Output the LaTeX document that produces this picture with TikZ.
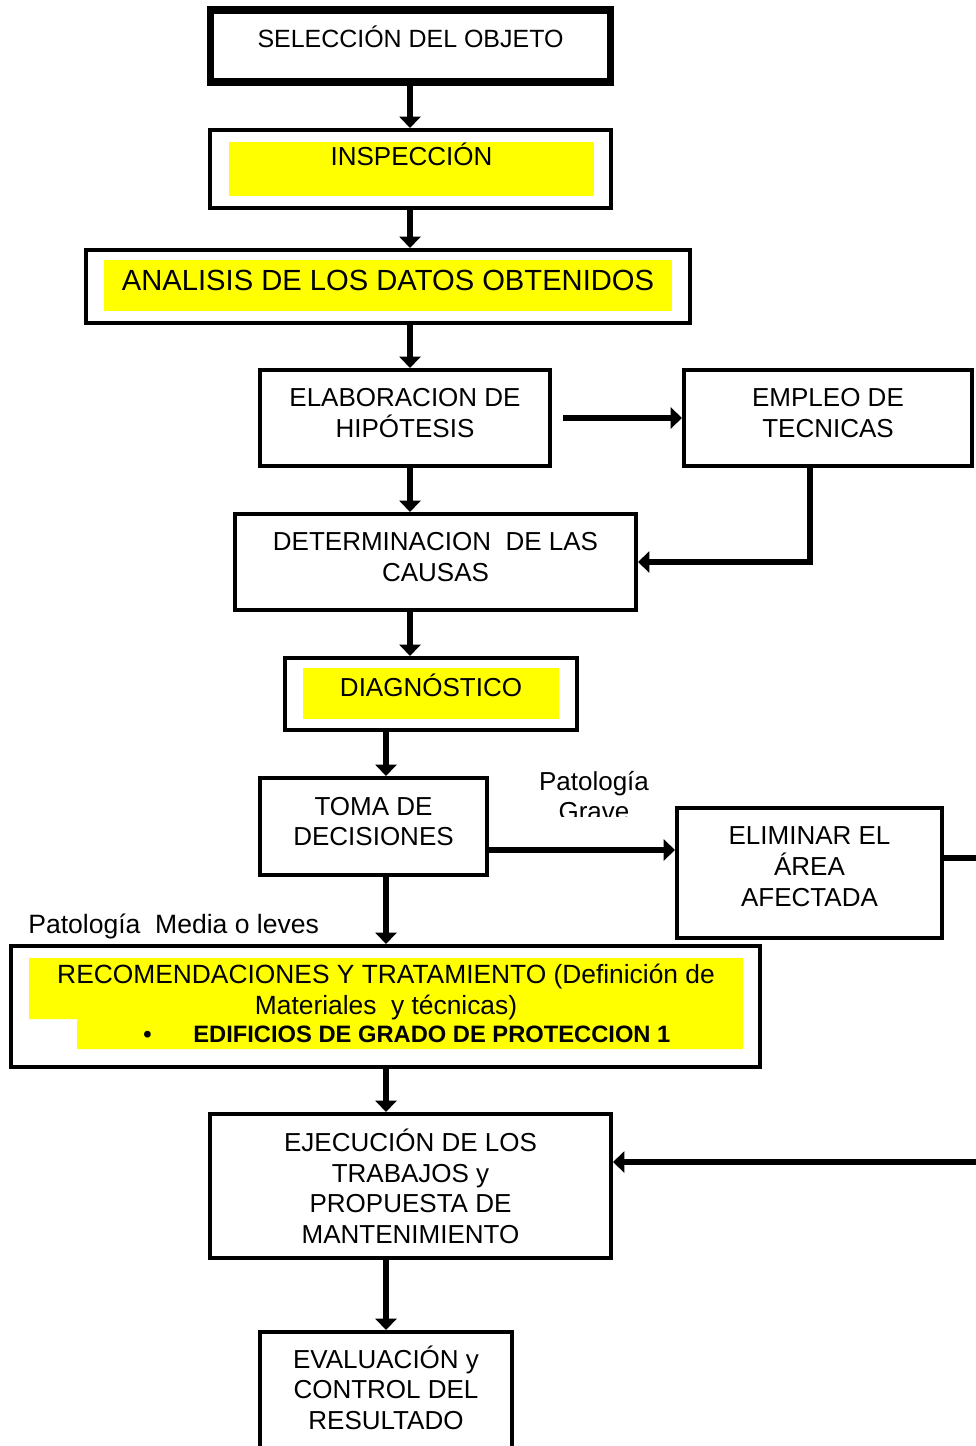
\documentclass[tikz,border=0pt]{standalone}
\usepackage{fontspec}
\setmainfont{Liberation Sans}
\usetikzlibrary{arrows.meta,positioning}
\definecolor{hilite}{RGB}{255,255,0}

\begin{document}
\begin{tikzpicture}[
        x=0.02cm, y=-0.02cm,
        every node/.style={font=\fontsize{14.8}{17.4}\selectfont, inner sep=0pt},
        box/.style={draw, rectangle, line width=2.3pt, align=center, text depth=0.2cm},
        frame/.style={draw, rectangle, line width=2.3pt},
        hl/.style={fill=hilite, align=center},
        arrow/.style={->, >={Triangle[width=12pt,length=6.5pt]}, line width=3pt}
    ]
        \useasboundingbox (0,0) rectangle (976,1446);
        \clip (0,0) rectangle (976,1446);

        % Main column - top to bottom
        \node[box, line width=4pt, minimum width=8.02cm, text height=0.76cm, text depth=0.68cm, font=\fontsize{14.2}{17}\selectfont] (sel) at (410.5,46) {SELECCIÓN DEL OBJETO};

        \node[frame, minimum width=8.02cm, minimum height=1.56cm] (insp) at (410.5,169) {};
        \node[hl, minimum width=7.3cm, text height=0.48cm, text depth=0.6cm] (insptxt) at (411.5,169) {INSPECCIÓN};

        \node[frame, minimum width=12.08cm, minimum height=1.46cm] (anal) at (388,286.5) {};
        \node[hl, minimum width=11.36cm, text height=0.6cm, text depth=0.42cm, font=\fontsize{16.6}{20}\selectfont] (analtxt) at (388,285.5) {ANALISIS DE LOS DATOS OBTENIDOS};

        \node[box, minimum width=5.8cm, minimum height=1.92cm] (elab) at (405,418) {ELABORACION DE\\HIPÓTESIS};
        \node[box, minimum width=5.76cm, minimum height=1.92cm] (empl) at (828,418) {EMPLEO DE\\TECNICAS};
        \node[box, minimum width=8.02cm, minimum height=1.92cm] (det) at (435.5,562) {DETERMINACION\ \ DE LAS\\CAUSAS};

        \node[frame, minimum width=5.84cm, minimum height=1.44cm] (diag) at (431,694) {};
        \node[hl, minimum width=5.12cm, text height=0.56cm, text depth=0.46cm] (diagtxt) at (431,693.5) {DIAGNÓSTICO};

        \node[box, minimum width=4.54cm, minimum height=1.94cm] (toma) at (373.5,826.5) {TOMA DE\\DECISIONES};
        \node[box, minimum width=5.3cm, minimum height=2.6cm, text depth=0.26cm] (elim) at (809.5,873) {ELIMINAR EL\\ÁREA\\AFECTADA};

        % Recommendations with its highlighted text
        \fill[hilite] (29,958) -- (743,958) -- (743,1049) -- (77,1049) -- (77,1019) -- (29,1019) -- cycle;
        \node[frame, minimum width=14.98cm, minimum height=2.42cm] (reco) at (385.5,1006.5) {};
        \node[align=center, font=\fontsize{15}{17.4}\selectfont] (recotxt) at (386,992) {RECOMENDACIONES Y TRATAMIENTO (Definición de\\Materiales\ \ y técnicas)};
        \node[anchor=base west, font=\bfseries\fontsize{13.5}{16}\selectfont] (recogrado) at (143,1042) {\makebox[1.0cm][l]{\textbullet}EDIFICIOS DE GRADO DE PROTECCION 1};

        \node[box, minimum width=8.02cm, minimum height=2.88cm, text depth=0cm] (ejec) at (410.5,1186) {EJECUCIÓN DE LOS\\TRABAJOS y\\PROPUESTA DE\\MANTENIMIENTO};
        \node[box, minimum width=5.04cm, minimum height=2.5cm, text depth=0.28cm, anchor=north] (eval) at (386,1330) {EVALUACIÓN y\\CONTROL DEL\\RESULTADO};

        % Branch labels
        \begin{scope}
            \clip (520,750) rectangle (680,816);
            \node[align=center] (grave) at (594,796) {Patología\\Grave};
        \end{scope}
        \node[anchor=base west, font=\fontsize{15.1}{17.4}\selectfont] (leves) at (28,933) {Patología\ \ Media o leves};

        % Arrows
        \coordinate (upper) at (410,0);
        \coordinate (lower) at (386,0);
        \coordinate (loop) at (992,0);
        \draw[arrow] (sel.south -| upper) -- (insp.north -| upper);
        \draw[arrow] (insp.south -| upper) -- (anal.north -| upper);
        \draw[arrow] (anal.south -| upper) -- (elab.north -| upper);
        \draw[arrow] (elab.south -| upper) -- (det.north -| upper);
        \draw[arrow] ([xshift=0.22cm]elab.east) -- (empl.west);
        \draw[arrow] ([xshift=-0.36cm]empl.south) |- (det.east);
        \draw[arrow] (det.south -| upper) -- (diag.north -| upper);
        \draw[arrow] (diag.south -| lower) -- (toma.north -| lower);
        \draw[arrow] (toma.south -| lower) -- (reco.north -| lower);
        \draw[arrow] ([yshift=-0.47cm]toma.east) -- ([yshift=-0.47cm]toma.east -| elim.west);
        \draw[arrow] ([yshift=0.3cm]elim.east) -- ([yshift=0.3cm]elim.east -| loop) -- ([yshift=0.48cm]ejec.east -| loop) -- ([yshift=0.48cm]ejec.east);
        \draw[arrow] (reco.south -| lower) -- (ejec.north -| lower);
        \draw[arrow] (ejec.south -| lower) -- (eval.north -| lower);
    \end{tikzpicture}
\end{document}
